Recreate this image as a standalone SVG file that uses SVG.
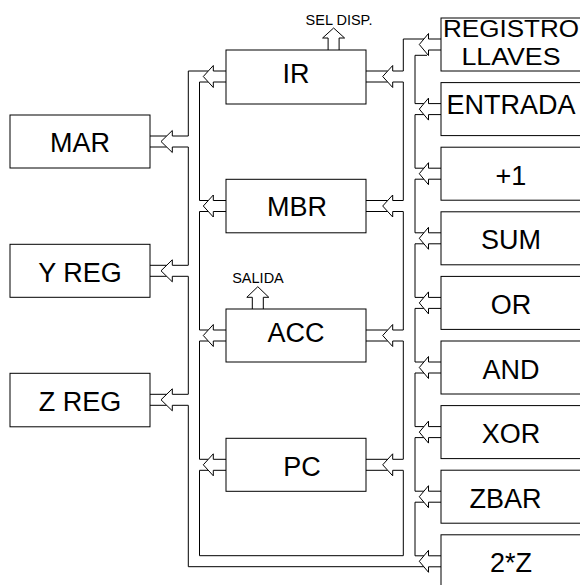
<svg xmlns="http://www.w3.org/2000/svg" width="580" height="585" viewBox="0 0 580 585">
<style>
.box{fill:#fff;stroke:#000;stroke-width:1}
.ln{fill:none;stroke:#000;stroke-width:1}
.arr{fill:#fff;stroke:#000;stroke-width:1}
.t{font-family:"Liberation Sans",Arial,sans-serif;font-size:27px;fill:#000;text-anchor:middle}
.s{font-family:"Liberation Sans",Arial,sans-serif;font-size:14.5px;fill:#000;text-anchor:middle}
</style>
<rect width="580" height="585" fill="#fff"/>
<g id="connectors">
  <!-- left bus outer line -->
  <path class="ln" d="M208.3 71 H188.3 V136 M188.3 147 V265.3 M188.3 276.3 V394.3 M188.3 405.3 V566.7 H424"/>
  <!-- left bus inner line + bottom + right bus left line -->
  <path class="ln" d="M208.3 82 H199.5 V200.5 H208.3 M208.3 211.5 H199.5 V330 H208.3 M208.3 341 H199.5 V459.3 H208.3 M208.3 470.3 H199.5 V555.7 H403.3 V470.3"/>
  <path class="ln" d="M403.3 459.3 V341 M403.3 330 V211.5 M403.3 200.5 V82 M403.3 71 V39 H424"/>
  <!-- right bus right line -->
  <path class="ln" d="M427 55.3 H415 V103.6 H424 M424 114.6 H415 V168.2 H424 M424 179.2 H415 V232.8 H424 M424 243.8 H415 V297.4 H424 M424 308.4 H415 V362 H424 M424 373 H415 V426.6 H424 M424 437.6 H415 V491.2 H424 M424 502.2 H415 V555.8 H424"/>
  <!-- tip-side lines into centre boxes (right) -->
  <path class="ln" d="M366 71 H387.7 M366 82 H387.7 M366 200.5 H387.7 M366 211.5 H387.7 M366 330 H387.7 M366 341 H387.7 M366 459.3 H387.7 M366 470.3 H387.7"/>
  <!-- tip-side lines into left boxes -->
  <path class="ln" d="M150 136 H166.7 M150 147 H166.7 M150 265.3 H166.7 M150 276.3 H166.7 M150 394.3 H166.7 M150 405.3 H166.7"/>
  <!-- centre boxes -> left bus -->
  <polyline class="arr" points="226,71 213.3,71 213.3,65.5 203.3,76.5 213.3,87.5 213.3,82 226,82"/>
  <polyline class="arr" points="226,200.5 213.3,200.5 213.3,195 203.3,206 213.3,217 213.3,211.5 226,211.5"/>
  <polyline class="arr" points="226,330 213.3,330 213.3,324.5 203.3,335.5 213.3,346.5 213.3,341 226,341"/>
  <polyline class="arr" points="226,459.3 213.3,459.3 213.3,453.8 203.3,464.8 213.3,475.8 213.3,470.3 226,470.3"/>
  <!-- right bus -> centre boxes -->
  <polyline class="arr" points="403.3,71 392.7,71 392.7,65.5 382.7,76.5 392.7,87.5 392.7,82 403.3,82"/>
  <polyline class="arr" points="403.3,200.5 392.7,200.5 392.7,195 382.7,206 392.7,217 392.7,211.5 403.3,211.5"/>
  <polyline class="arr" points="403.3,330 392.7,330 392.7,324.5 382.7,335.5 392.7,346.5 392.7,341 403.3,341"/>
  <polyline class="arr" points="403.3,459.3 392.7,459.3 392.7,453.8 382.7,464.8 392.7,475.8 392.7,470.3 403.3,470.3"/>
  <!-- left bus -> left boxes -->
  <polyline class="arr" points="188.3,136 172.3,136 172.3,130.5 161,141.5 172.3,152.5 172.3,147 188.3,147"/>
  <polyline class="arr" points="188.3,265.3 172.3,265.3 172.3,259.8 161,270.8 172.3,281.8 172.3,276.3 188.3,276.3"/>
  <polyline class="arr" points="188.3,394.3 172.3,394.3 172.3,388.8 161,399.8 172.3,410.8 172.3,405.3 188.3,405.3"/>
  <!-- right boxes -> right bus -->
  <polyline class="arr" points="441,39 428.5,39 428.5,33.5 419.3,44.5 428.5,55.5 428.5,50 441,50"/>
  <polyline class="arr" points="441,103.6 428.5,103.6 428.5,98.1 419.3,109.1 428.5,120.1 428.5,114.6 441,114.6"/>
  <polyline class="arr" points="441,168.2 428.5,168.2 428.5,162.7 419.3,173.7 428.5,184.7 428.5,179.2 441,179.2"/>
  <polyline class="arr" points="441,232.8 428.5,232.8 428.5,227.3 419.3,238.3 428.5,249.3 428.5,243.8 441,243.8"/>
  <polyline class="arr" points="441,297.4 428.5,297.4 428.5,291.9 419.3,302.9 428.5,313.9 428.5,308.4 441,308.4"/>
  <polyline class="arr" points="441,362 428.5,362 428.5,356.5 419.3,367.5 428.5,378.5 428.5,373 441,373"/>
  <polyline class="arr" points="441,426.6 428.5,426.6 428.5,421.1 419.3,432.1 428.5,443.1 428.5,437.6 441,437.6"/>
  <polyline class="arr" points="441,491.2 428.5,491.2 428.5,485.7 419.3,496.7 428.5,507.7 428.5,502.2 441,502.2"/>
  <polyline class="arr" points="441,555.8 428.5,555.8 428.5,550.3 419.3,561.3 428.5,572.3 428.5,566.8 441,566.8"/>
  <!-- output arrows -->
  <polyline class="arr" points="328.1,50 328.1,38 322.6,38 333.6,28 344.6,38 339.1,38 339.1,50"/>
  <polyline class="arr" points="252.3,309 252.3,297.3 246.8,297.3 257.8,286.7 268.8,297.3 263.3,297.3 263.3,309"/>
</g>
<g id="MAR"><rect class="box" x="10" y="115" width="140" height="53"/><text class="t" x="80" y="152.3">MAR</text></g>
<g id="YREG"><rect class="box" x="10" y="244.3" width="140" height="53"/><text class="t" x="80" y="281.7">Y REG</text></g>
<g id="ZREG"><rect class="box" x="10" y="373.3" width="140" height="53.5"/><text class="t" x="80" y="411">Z REG</text></g>
<g id="IR"><rect class="box" x="226" y="50" width="140" height="54"/><text class="t" x="296" y="83.3">IR</text><text class="s" x="339" y="25">SEL DISP.</text></g>
<g id="MBR"><rect class="box" x="226" y="179.3" width="140" height="53.5"/><text class="t" x="297" y="216">MBR</text></g>
<g id="ACC"><rect class="box" x="226" y="309" width="140" height="53"/><text class="t" x="296" y="341.7">ACC</text><text class="s" x="258" y="283.3">SALIDA</text></g>
<g id="PC"><rect class="box" x="226" y="438.3" width="140" height="53"/><text class="t" x="302" y="476">PC</text></g>
<g id="REGISTRO"><rect class="box" x="441" y="18" width="141" height="53"/><text class="t" x="511" y="37.3" font-size="23.5" textLength="136" lengthAdjust="spacingAndGlyphs" style="font-size:23.5px">REGISTRO</text><text class="t" x="511" y="65" textLength="99" lengthAdjust="spacingAndGlyphs" style="font-size:23.5px">LLAVES</text></g>
<g id="ENTRADA"><rect class="box" x="441" y="82.6" width="141" height="53"/><text class="t" x="511" y="114.3">ENTRADA</text></g>
<g id="INC"><rect class="box" x="441" y="147.2" width="141" height="53"/><text class="t" x="511" y="184.7">+1</text></g>
<g id="SUM"><rect class="box" x="441" y="211.8" width="141" height="53"/><text class="t" x="511" y="249.3">SUM</text></g>
<g id="OR"><rect class="box" x="441" y="276.4" width="141" height="53"/><text class="t" x="511" y="313.9">OR</text></g>
<g id="AND"><rect class="box" x="441" y="341" width="141" height="53"/><text class="t" x="511" y="378.5">AND</text></g>
<g id="XOR"><rect class="box" x="441" y="405.6" width="141" height="53"/><text class="t" x="511" y="443.3">XOR</text></g>
<g id="ZBAR"><rect class="box" x="441" y="470.2" width="141" height="53"/><text class="t" x="505.5" y="508.3">ZBAR</text></g>
<g id="TWOZ"><rect class="box" x="441" y="534.8" width="141" height="53"/><text class="t" x="511" y="571.7">2*Z</text></g>
</svg>
